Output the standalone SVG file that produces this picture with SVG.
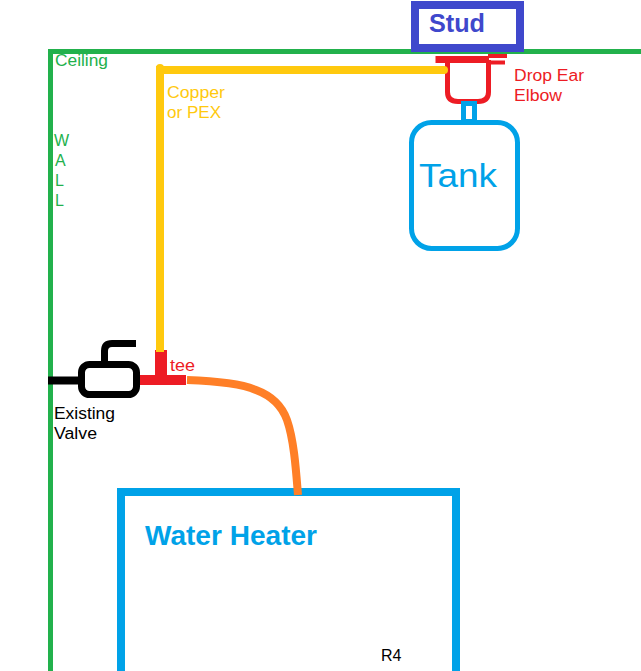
<svg xmlns="http://www.w3.org/2000/svg" width="641" height="671" viewBox="0 0 641 671">
<style>
text { font-family: "Liberation Sans", Arial, sans-serif; font-size: 16px; }
.line { fill: none; stroke-linecap: butt; stroke-linejoin: round; }
.sharp { stroke-linejoin: miter; }
.green { fill: #22b14c; }
.yellow { fill: #ffc90e; }
.red { fill: #ed1c24; }
.blue { fill: #00a2e8; }
.indigo { fill: #3f48cc; }
</style>
<rect width="641" height="671" fill="#fff"/>
<g id="wall">
<path class="line sharp" stroke="#22b14c" stroke-width="5" d="M50.500 671V51.500H641"/>
<text class="green" x="55" y="66" textLength="53" lengthAdjust="spacingAndGlyphs">Ceiling</text>
<text class="green" x="54" y="146">W</text>
<text class="green" x="55" y="166">A</text>
<text class="green" x="55" y="186">L</text>
<text class="green" x="55" y="206">L</text>
</g>
<g id="stud">
<rect x="415" y="5" width="105" height="43" fill="#fff" stroke="#3f48cc" stroke-width="8"/>
<text class="indigo" x="429" y="32" textLength="56" lengthAdjust="spacingAndGlyphs" style="font-size:26px;font-weight:bold">Stud</text>
</g>
<g id="drop-ear-elbow">
<path class="line" stroke="#ed1c24" stroke-width="7" stroke-linecap="round" d="M435.500 59.500H489"/>
<path class="line" stroke="#ed1c24" stroke-width="4" stroke-linecap="round" d="M488 56H507M488 62.500H505"/>
<path class="line" stroke="#ed1c24" stroke-width="5" d="M447.500 60V92Q447.500 101.500 458 101.500H478Q488.500 101.500 488.500 92V60"/>
<text class="red" x="514" y="81" textLength="70" lengthAdjust="spacingAndGlyphs">Drop Ear</text>
<text class="red" x="514" y="101" textLength="48" lengthAdjust="spacingAndGlyphs">Elbow</text>
</g>
<g id="tank">
<rect x="463.500" y="103.500" width="11" height="18" fill="#fff" stroke="#00a2e8" stroke-width="5"/>
<rect x="411.500" y="122.500" width="106" height="126" rx="20" fill="#fff" stroke="#00a2e8" stroke-width="5"/>
<text class="blue" x="419" y="187" textLength="78" lengthAdjust="spacingAndGlyphs" style="font-size:34px">Tank</text>
</g>
<g id="valve">
<path class="line" stroke="#000" stroke-width="8" d="M48 380.500H80"/>
<rect x="81.500" y="364.500" width="55" height="30" rx="8" fill="#fff" stroke="#000" stroke-width="7"/>
<path class="line" stroke="#000" stroke-width="7" stroke-linecap="round" d="M104.500 362V351Q104.500 343.500 112 343.500H136"/>
<text x="54" y="419" textLength="61" lengthAdjust="spacingAndGlyphs">Existing</text>
<text x="54" y="439" textLength="43" lengthAdjust="spacingAndGlyphs">Valve</text>
</g>
<g id="tee">
<path class="red" d="M155 350H167V375H186V385H140V375H155Z"/>
<text class="red" x="170" y="371" textLength="25" lengthAdjust="spacingAndGlyphs">tee</text>
</g>
<g id="water-heater">
<path class="line sharp" stroke="#00a2e8" stroke-width="8" d="M121 671V492H456V671"/>
<text class="blue" x="145" y="545" textLength="172" lengthAdjust="spacingAndGlyphs" style="font-size:27px;font-weight:bold">Water Heater</text>
</g>
<g id="connectors">
<path class="line sharp" stroke="#ffc90e" stroke-width="8" d="M160 352V70H444"/>
<circle cx="160" cy="68" r="4" fill="#ffc90e"/>
<circle cx="444" cy="70" r="4" fill="#ffc90e"/>
<path class="line" stroke="#ff7f27" stroke-width="8" stroke-linecap="round" d="M187 380C215 381 240 383 256 390C272 396 282 406 287 420C294 440 296 470 298 495"/>
</g>
<text class="yellow" x="167" y="98" textLength="58" lengthAdjust="spacingAndGlyphs">Copper</text>
<text class="yellow" x="167" y="118" textLength="54" lengthAdjust="spacingAndGlyphs">or PEX</text>
<text x="381" y="661">R4</text>
</svg>
